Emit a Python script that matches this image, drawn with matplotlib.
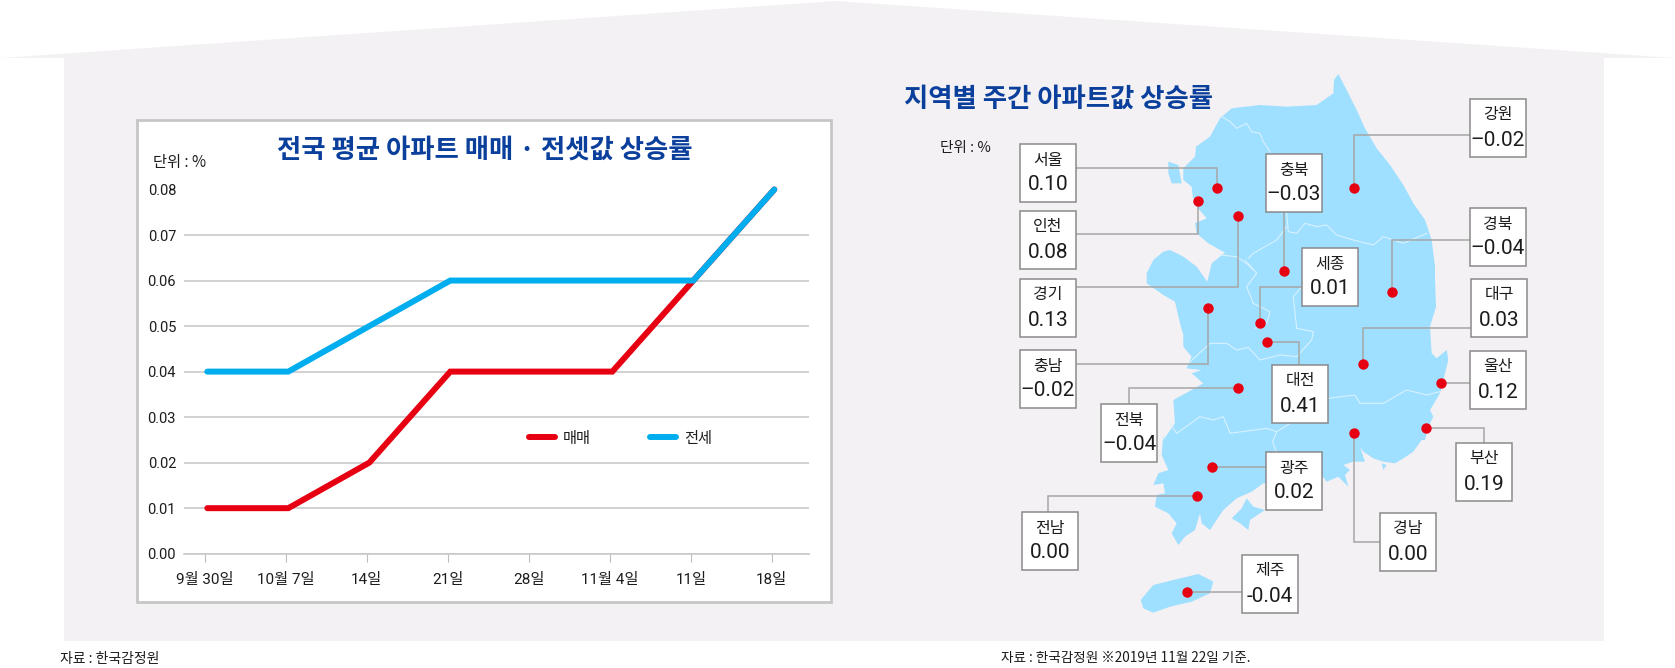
import numpy as np
import matplotlib
matplotlib.use("Agg")
from matplotlib import pyplot as plt
from matplotlib.patches import Polygon, Rectangle
from matplotlib.transforms import ScaledTranslation

plt.rcParams["font.family"] = ["Noto Sans CJK KR", "DejaVu Sans"]
NUM_FONT = ["Roboto", "Noto Sans CJK KR"]

# line chart data
dates = ["9월 30일", "10월 7일", "14일", "21일", "28일", "11월 4일", "11일", "18일"]
sale = [0.01, 0.01, 0.02, 0.04, 0.04, 0.04, 0.06, 0.08]
jeonse = [0.04, 0.04, 0.05, 0.06, 0.06, 0.06, 0.06, 0.08]
y_ticks = [0.00, 0.01, 0.02, 0.03, 0.04, 0.05, 0.06, 0.07, 0.08]

# map data
regions = ["서울", "인천", "경기", "강원", "충북", "세종", "경북", "대구", "충남",
           "대전", "울산", "전북", "경남", "부산", "광주", "전남", "제주"]
values = ["0.10", "0.08", "0.13", "–0.02", "–0.03", "0.01", "–0.04", "0.03", "–0.02",
          "0.41", "0.12", "–0.04", "0.00", "0.19", "0.02", "0.00", "-0.04"]

# label box top-left corner, pixels
box_x = [1020, 1020, 1020, 1470, 1266, 1302, 1470, 1471, 1020,
         1272, 1470, 1101, 1380, 1456, 1266, 1022, 1242]
box_y = [144, 211, 279, 99, 154, 248, 208, 279, 350,
         365, 351, 404, 513, 443, 452, 512, 555]
# red dot centres, pixels
dot_x = [1217, 1198, 1238, 1354, 1284, 1260, 1392, 1363, 1208,
         1267, 1441, 1238, 1354, 1426, 1212, 1197, 1187]
dot_y = [188, 201, 216, 188, 271, 323, 292, 364, 308,
         342, 383, 388, 433, 428, 467, 496, 592]
# leader lines, box end -> elbow -> dot
leaders = [
    [(1076, 168), (1217, 168)],
    [(1076, 234), (1198, 234)],
    [(1076, 287), (1238, 287)],
    [(1470, 135), (1354, 135)],
    [(1284, 211), (1284, 211)],
    [(1302, 287), (1260, 287)],
    [(1470, 240), (1392, 240)],
    [(1471, 328), (1363, 328)],
    [(1077, 364), (1208, 364)],
    [(1299, 365), (1299, 342)],
    [(1470, 383), (1441, 383)],
    [(1129, 404), (1129, 388)],
    [(1380, 542), (1354, 542)],
    [(1484, 443), (1484, 428)],
    [(1266, 467), (1212, 467)],
    [(1048, 512), (1048, 496)],
    [(1242, 592), (1187, 592)],
]

east_a = [(655, 12), (680, 60), (710, 120), (735, 175), (770, 235), (810, 285), (850, 345),
          (880, 400), (915, 450), (935, 510), (945, 590)]
east_b = [(945, 60), (948, 140), (930, 200), (935, 280), (950, 295), (980, 270), (985, 300),
          (975, 340), (960, 400), (930, 450), (940, 470), (925, 500), (915, 540)]
south_c = [(905, 30), (880, 65), (850, 85), (825, 100), (790, 95), (760, 85), (730, 65),
           (720, 50), (735, 95), (700, 95), (670, 105), (690, 120), (675, 135), (685, 170),
           (655, 140), (620, 155), (600, 130), (530, 150), (430, 160), (395, 185), (350, 205),
           (310, 240), (270, 300), (245, 280), (240, 250), (225, 300), (195, 320), (175, 345),
           (155, 310), (170, 280), (145, 250), (105, 230), (110, 195), (135, 190), (130, 160),
           (100, 165), (115, 130), (145, 120), (125, 75), (130, 10)]
west_b = [(130, 540), (165, 490), (160, 420), (215, 390), (250, 370), (215, 340), (245, 330),
          (200, 325), (215, 290), (190, 260), (190, 225), (180, 190), (165, 125), (130, 105),
          (80, 70), (80, 40), (100, 0)]
west_a = [(130, 545), (150, 540), (190, 560), (230, 590), (262, 635), (275, 580), (315, 548),
          (265, 520), (230, 490), (225, 460), (260, 445), (230, 410), (218, 380), (215, 350),
          (190, 330), (190, 295), (225, 260), (228, 230), (270, 200), (300, 145), (335, 115),
          (420, 105), (500, 110), (590, 105), (640, 70), (642, 30)]
ganghwa = [(145, 275), (175, 285), (185, 340), (155, 340), (145, 310)]
goheung = [(335, 265), (365, 235), (380, 205), (400, 230), (435, 240), (390, 270), (385, 300),
           (360, 280)]
namhae = [(785, 100), (800, 105), (790, 120)]
jeju = [(62, 510), (100, 465), (160, 450), (235, 432), (280, 455), (270, 490), (215, 515),
        (150, 530), (100, 548), (70, 535)]

# white province borders
borders_a = [
    [(305, 140), (330, 155), (350, 175), (380, 160), (395, 185), (420, 190), (430, 215),
     (450, 245)],
    [(500, 430), (505, 485), (530, 490), (555, 460), (590, 470), (620, 465), (650, 495),
     (700, 510), (760, 525), (790, 500), (850, 520), (920, 490)],
    [(500, 470), (470, 510), (400, 550), (385, 565)],
    [(300, 555), (350, 560), (385, 585), (400, 600)],
]
borders_b = [
    [(375, 0), (410, 40), (380, 80), (400, 130), (450, 155), (440, 190), (405, 205)],
    [(200, 315), (270, 250), (320, 250), (350, 270), (385, 262), (420, 300), (480, 285),
     (530, 290), (575, 240), (580, 215), (530, 205), (520, 110), (545, 80)],
    [(625, 415), (705, 405), (720, 430), (790, 430), (860, 390), (920, 405), (960, 395)],
    [(150, 490), (170, 520), (240, 470), (280, 480), (310, 470), (330, 520), (440, 505),
     (470, 515), (560, 460)],
    [(470, 515), (458, 545), (475, 595)],
]


def crop(y0, pts):
    # crop pixels back to figure pixels
    return [(1120 + x / 3, y0 + y / 3) for x, y in pts]


def main():
    fig = plt.figure(figsize=(16.75, 6.68), dpi=100, facecolor="white")

    # pixel canvas for the background, the map and all the loose text
    bg = fig.add_axes([0, 0, 1, 1])
    bg.set_xlim(0, 1675)
    bg.set_ylim(668, 0)
    bg.axis("off")

    grey = "#f3f1f4"
    navy = "#0b3f9c"
    sky = "#9fdfff"
    red = "#e60012"
    blue = "#00aeef"
    ink = "#1c1c1c"
    bg.add_patch(Polygon([(0, 58), (836, 1), (1675, 58)], fc=grey, ec="none"))
    bg.add_patch(Rectangle((64, 58), 1540, 583, fc=grey, ec="none"))
    bg.add_patch(Rectangle((137, 120), 694, 482, fc="white", ec="#c6c6c6", lw=2))

    bg.text(485, 150, "전국 평균 아파트 매매 · 전셋값 상승률", color=navy, fontsize=19,
            fontweight="bold", ha="center", va="center")
    bg.text(153, 162, "단위 : %", fontsize=11, color=ink, va="center")
    bg.text(904, 99, "지역별 주간 아파트값 상승률", color=navy, fontsize=19,
            fontweight="bold", va="center")
    bg.text(940, 148, "단위 : %", fontsize=10.5, color=ink, va="center")
    bg.text(60, 659, "자료 : 한국감정원", fontsize=10, color=ink, va="center")
    bg.text(1001, 658, "자료 : 한국감정원 ※2019년 11월 22일 기준.", fontsize=9.8,
            color=ink, va="center")

    # map
    outline = (crop(70, east_a) + crop(260, east_b) + crop(430, south_c)
               + crop(260, west_b) + crop(70, west_a))
    bg.add_patch(Polygon(outline, fc=sky, ec="none", zorder=2))
    for piece, y0 in [(ganghwa, 70), (goheung, 430), (namhae, 430), (jeju, 430)]:
        bg.add_patch(Polygon(crop(y0, piece), fc=sky, ec="none", zorder=2))
    for b in borders_a:
        xy = np.array(crop(70, b))
        bg.plot(xy[:, 0], xy[:, 1], color="#d8f2ff", lw=0.8, zorder=3)
    for b in borders_b:
        xy = np.array(crop(260, b))
        bg.plot(xy[:, 0], xy[:, 1], color="#d8f2ff", lw=0.8, zorder=3)

    for i, region in enumerate(regions):
        pts = leaders[i] + [(dot_x[i], dot_y[i])]
        bg.plot([p[0] for p in pts], [p[1] for p in pts], color="#a6a6a6", lw=1.1,
                zorder=4, solid_joinstyle="miter")
        bg.plot(dot_x[i], dot_y[i], "o", color=red, ms=7.5, mec="none", zorder=5)
        bg.add_patch(Rectangle((box_x[i], box_y[i]), 56, 58, fc="white", ec="#8a8a8a",
                               lw=1.1, zorder=6))
        bg.text(box_x[i] + 28, box_y[i] + 16, region, fontsize=11.5, color=ink,
                ha="center", va="center", zorder=7)
        bg.text(box_x[i] + 28, box_y[i] + 41, values[i], fontsize=15, color=ink,
                family=NUM_FONT, ha="center", va="center", zorder=7)

    # line chart, placed on the pixel grid of the reference
    left, right, top, bottom = 184.4, 809, 189.5, 553.7
    ax = fig.add_axes([left / 1675, 1 - bottom / 668, (right - left) / 1675,
                       (bottom - top) / 668])
    ax.patch.set_alpha(0)
    # the lines sit a little right of the ticks in the original
    shift = ax.transData + ScaledTranslation(2.5 / 100, 0, fig.dpi_scale_trans)
    ax.plot(dates, sale, color=red, lw=4.3, label="매매", solid_capstyle="round",
            solid_joinstyle="miter", clip_on=False, zorder=3, transform=shift)
    ax.plot(dates, jeonse, color=blue, lw=4.3, label="전세", solid_capstyle="round",
            solid_joinstyle="miter", clip_on=False, zorder=4, transform=shift)
    ax.set_xlim(-20.4 / 81, 604.2 / 81)
    ax.set_ylim(0, 0.08)
    ax.set_yticks(y_ticks)
    ax.set_yticklabels([f"{v:.2f}" for v in y_ticks], family=NUM_FONT, fontsize=10.5,
                       color=ink)
    ax.tick_params(axis="y", length=0, pad=6)
    ax.tick_params(axis="x", length=6, width=0.8, color="#bdbdbd", pad=8, labelcolor=ink)
    for lab in ax.get_xticklabels():
        lab.set_family(NUM_FONT)
        lab.set_fontsize(11)
    ax.grid(axis="y", color="#c9c9c9", lw=1.2)
    ax.set_axisbelow(True)
    for side in ["top", "right", "left"]:
        ax.spines[side].set_visible(False)
    ax.spines["bottom"].set_color("#c9c9c9")
    ax.spines["bottom"].set_linewidth(1.2)

    ax.legend(loc="center", bbox_to_anchor=((620.5 - left) / (right - left),
                                            (bottom - 438) / (bottom - top)),
              frameon=False, ncol=2, fontsize=11, handlelength=1.7, handletextpad=0.5,
              columnspacing=3.9, labelcolor=ink)

    fig.savefig("out.png", dpi=100, facecolor="white")


if __name__ == "__main__":
    main()
